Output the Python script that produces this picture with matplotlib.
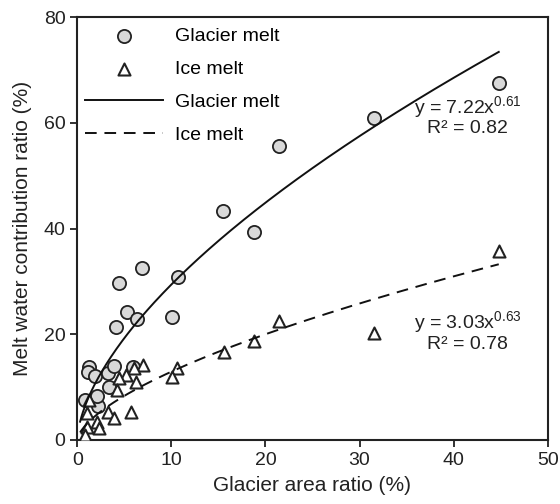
import numpy as np
import matplotlib; matplotlib.use("Agg")
import matplotlib.pyplot as plt

plt.rcParams["font.family"] = ["Liberation Sans", "DejaVu Sans"]
plt.rcParams["mathtext.fontset"] = "custom"
plt.rcParams["mathtext.rm"] = "Liberation Sans"
plt.rcParams["mathtext.default"] = "regular"

# glacier melt contribution (circles)
gm_x = [0.8, 2.2, 2.1, 3.4, 1.2, 1.1, 1.9, 3.3, 3.9, 5.9, 4.1, 5.3, 6.3, 10.1,
        4.4, 6.9, 10.7, 15.5, 18.8, 21.4, 31.5, 44.8]
gm_y = [7.6, 6.4, 8.3, 10.0, 13.8, 12.9, 12.1, 12.7, 14.0, 13.8, 21.4, 24.2, 22.9, 23.3,
        29.7, 32.5, 30.8, 43.3, 39.3, 55.6, 61.0, 67.5]
# ice melt contribution (triangles)
im_x = [7.0, 6.0, 5.2, 4.4, 6.2, 4.2, 1.2, 1.0, 3.3, 3.9, 5.7, 2.1, 1.0, 0.8, 2.3,
        10.6, 10.1, 15.6, 18.8, 21.4, 31.5, 44.8]
im_y = [14.2, 13.6, 12.3, 11.7, 11.0, 9.5, 7.6, 5.1, 5.3, 4.2, 5.3, 3.4, 2.5, 1.0, 2.3,
        13.6, 11.9, 16.6, 18.7, 22.5, 20.2, 35.7]
# power-law fits y = a * x^b
gm_fit = (7.22, 0.61, 0.82)
im_fit = (3.03, 0.63, 0.78)

fig = plt.figure(figsize=(5.6, 5.04), dpi=100)
ax = fig.add_axes([0.138, 0.127, 0.840, 0.839])

xf = np.linspace(0.3, 44.8, 300)
ax.scatter(gm_x, gm_y, s=90, marker="o", facecolor="#d9d9d9", edgecolor="#222222",
           linewidth=1.3, label="Glacier melt", zorder=3)
ax.scatter(im_x, im_y, s=75, marker="^", facecolor="white", edgecolor="#222222",
           linewidth=1.5, label="Ice melt", zorder=3)
ax.plot(xf, gm_fit[0] * xf ** gm_fit[1], color="#111111", lw=1.4, label="Glacier melt", zorder=4)
ax.plot(xf, im_fit[0] * xf ** im_fit[1], color="#111111", lw=1.4, ls=(0, (6, 4)),
        label="Ice melt", zorder=4)

ax.text(41.5, 61.4, f"y = {gm_fit[0]:.2f}x$^{{{gm_fit[1]:.2f}}}$\nR² = {gm_fit[2]:.2f}",
        ha="center", va="center", fontsize=14, color="#222222", linespacing=1.05)
ax.text(41.5, 20.6, f"y = {im_fit[0]:.2f}x$^{{{im_fit[1]:.2f}}}$\nR² = {im_fit[2]:.2f}",
        ha="center", va="center", fontsize=14, color="#222222", linespacing=1.05)

ax.set_xlim(0, 50)
ax.set_ylim(0, 80)
ax.set_xticks([0, 10, 20, 30, 40, 50])
ax.set_yticks([0, 20, 40, 60, 80])
ax.tick_params(direction="out", length=5, width=1.3, labelsize=14, colors="#222222")
for s in ax.spines.values():
    s.set_linewidth(1.5)
    s.set_color("#222222")
ax.set_xlabel("Glacier area ratio (%)", fontsize=15, color="#222222", labelpad=5)
ax.set_ylabel("Melt water contribution ratio (%)", fontsize=15, color="#222222", labelpad=8)

ax.legend(loc="upper left", frameon=False, fontsize=14, handlelength=4.0,
          borderaxespad=0.0, labelspacing=0.8, handletextpad=0.6,
          bbox_to_anchor=(0.0, 0.995))

fig.savefig("out.png", dpi=100)
